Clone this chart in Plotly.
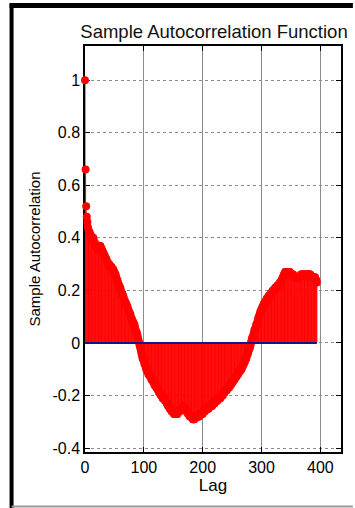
import plotly.graph_objects as go

# Sample autocorrelation values, lags 0..394
acf = [
    1.00, 0.66, 0.52, 0.48, 0.46, 0.44, 0.43, 0.42, 0.42, 0.41,
    0.41, 0.40, 0.40, 0.39, 0.40, 0.39, 0.38, 0.38, 0.37, 0.37,
    0.37, 0.36, 0.36, 0.35, 0.36, 0.36, 0.37, 0.36, 0.36, 0.35,
    0.35, 0.34, 0.34, 0.33, 0.33, 0.32, 0.32, 0.31, 0.31, 0.30,
    0.30, 0.30, 0.29, 0.29, 0.29, 0.29, 0.28, 0.28, 0.28, 0.27,
    0.27, 0.26, 0.26, 0.25, 0.24, 0.24, 0.23, 0.22, 0.22, 0.21,
    0.21, 0.20, 0.19, 0.19, 0.18, 0.18, 0.17, 0.16, 0.16, 0.15,
    0.15, 0.14, 0.14, 0.13, 0.12, 0.12, 0.11, 0.11, 0.10, 0.09,
    0.09, 0.08, 0.08, 0.07, 0.07, 0.06, 0.05, 0.04, 0.04, 0.03,
    0.02, 0.01, 0.00, -0.01, -0.02, -0.03, -0.04, -0.05, -0.06, -0.06,
    -0.07, -0.08, -0.08, -0.09, -0.10, -0.10, -0.11, -0.11, -0.12, -0.12,
    -0.12, -0.13, -0.13, -0.14, -0.14, -0.14, -0.15, -0.15, -0.16, -0.16,
    -0.16, -0.17, -0.17, -0.17, -0.18, -0.18, -0.19, -0.19, -0.19, -0.20,
    -0.20, -0.20, -0.21, -0.21, -0.21, -0.21, -0.22, -0.22, -0.22, -0.23,
    -0.23, -0.24, -0.24, -0.24, -0.25, -0.25, -0.25, -0.26, -0.26, -0.26,
    -0.26, -0.27, -0.27, -0.27, -0.27, -0.27, -0.27, -0.27, -0.26, -0.26,
    -0.26, -0.26, -0.25, -0.25, -0.25, -0.25, -0.24, -0.24, -0.25, -0.25,
    -0.25, -0.25, -0.26, -0.26, -0.26, -0.27, -0.27, -0.27, -0.28, -0.28,
    -0.28, -0.28, -0.28, -0.29, -0.29, -0.29, -0.29, -0.28, -0.28, -0.28,
    -0.28, -0.28, -0.28, -0.28, -0.28, -0.27, -0.27, -0.27, -0.27, -0.27,
    -0.27, -0.26, -0.26, -0.26, -0.26, -0.25, -0.25, -0.25, -0.25, -0.25,
    -0.25, -0.24, -0.24, -0.24, -0.24, -0.24, -0.24, -0.23, -0.23, -0.23,
    -0.23, -0.22, -0.22, -0.22, -0.22, -0.22, -0.21, -0.21, -0.21, -0.21,
    -0.21, -0.20, -0.20, -0.20, -0.20, -0.19, -0.19, -0.19, -0.18, -0.18,
    -0.18, -0.18, -0.17, -0.17, -0.17, -0.17, -0.16, -0.16, -0.16, -0.15,
    -0.15, -0.15, -0.14, -0.14, -0.14, -0.13, -0.13, -0.13, -0.12, -0.12,
    -0.12, -0.11, -0.11, -0.11, -0.10, -0.10, -0.10, -0.09, -0.09, -0.08,
    -0.08, -0.07, -0.07, -0.06, -0.06, -0.05, -0.04, -0.04, -0.03, -0.02,
    -0.02, -0.01, 0.00, 0.01, 0.02, 0.02, 0.03, 0.04, 0.05, 0.05,
    0.06, 0.07, 0.07, 0.08, 0.09, 0.10, 0.10, 0.11, 0.12, 0.12,
    0.13, 0.13, 0.14, 0.14, 0.15, 0.15, 0.15, 0.16, 0.16, 0.17,
    0.17, 0.17, 0.18, 0.18, 0.18, 0.18, 0.19, 0.19, 0.19, 0.20,
    0.20, 0.20, 0.20, 0.21, 0.21, 0.21, 0.21, 0.22, 0.22, 0.22,
    0.22, 0.23, 0.23, 0.23, 0.24, 0.24, 0.25, 0.25, 0.26, 0.26,
    0.27, 0.27, 0.27, 0.27, 0.27, 0.27, 0.27, 0.27, 0.27, 0.26,
    0.26, 0.26, 0.26, 0.26, 0.26, 0.25, 0.25, 0.25, 0.25, 0.25,
    0.25, 0.25, 0.25, 0.25, 0.25, 0.25, 0.25, 0.26, 0.26, 0.26,
    0.26, 0.26, 0.26, 0.26, 0.26, 0.26, 0.26, 0.26, 0.26, 0.26,
    0.26, 0.26, 0.26, 0.26, 0.25, 0.25, 0.25, 0.25, 0.25, 0.25,
    0.25, 0.25, 0.24, 0.24, 0.23,
]
lags = list(range(len(acf)))

x_ticks = [0, 100, 200, 300, 400]
y_ticks = [-0.4, -0.2, 0, 0.2, 0.4, 0.6, 0.8, 1]
y_tick_text = ["-0.4", "-0.2", "0", "0.2", "0.4", "0.6", "0.8", "1"]

title_text = "Sample Autocorrelation Function"
x_title = "Lag"
y_title = "Sample Autocorrelation"

FONT = "Liberation Sans, Arial, sans-serif"

# stems
sx, sy = [], []
for l, v in zip(lags, acf):
    sx += [l, l, None]
    sy += [0, v, None]

fig = go.Figure()
fig.add_trace(go.Scatter(x=sx, y=sy, mode="lines",
                         line=dict(color="#ff0000", width=1),
                         hoverinfo="skip", showlegend=False, cliponaxis=False))
fig.add_trace(go.Scatter(x=lags, y=acf, mode="markers",
                         marker=dict(color="#ff0000", size=8, line=dict(width=0)),
                         showlegend=False, cliponaxis=False))
fig.add_trace(go.Scatter(x=[lags[0], lags[-1]], y=[0, 0], mode="lines",
                         line=dict(color="#141482", width=2),
                         showlegend=False))

L, R, T, B = 85, 12, 46, 56
W, H = 355, 508
pw, ph = W - L - R, H - T - B

def px_x(p):
    return (p - L) / pw

def px_y(p):
    return (H - B - p) / ph

fig.update_layout(
    width=W, height=H,
    margin=dict(l=L, r=R, t=T, b=B, pad=0),
    paper_bgcolor="white", plot_bgcolor="white",
    font=dict(family=FONT, color="black", size=16),
    title=dict(text=title_text, x=(L + pw / 2) / W, xanchor="center",
               y=1 - 32 / H, yanchor="middle",
               font=dict(size=18.5, family=FONT, color="#111")),
    xaxis=dict(range=[0, 435], tickvals=x_ticks, ticks="inside", ticklen=5,
               tickcolor="black", showline=True, linecolor="black", linewidth=1.5,
               mirror="allticks", showgrid=True, gridcolor="#8c8c8c", gridwidth=1,
               zeroline=False, layer="below traces",
               title=dict(text=x_title, standoff=4, font=dict(size=17)),
               tickfont=dict(size=16)),
    yaxis=dict(range=[-0.415, 1.13], tickvals=y_ticks, ticktext=y_tick_text,
               ticks="inside", ticklen=5, tickcolor="black",
               showline=True, linecolor="black", linewidth=1.5, mirror="allticks",
               showgrid=True, gridcolor="#8c8c8c", gridwidth=1, griddash="dot",
               zeroline=False, layer="below traces",
               title=dict(text=y_title, standoff=8, font=dict(size=15)),
               tickfont=dict(size=16)),
    shapes=[
        dict(type="line", xref="paper", yref="paper",
             x0=px_x(11), x1=px_x(11), y0=px_y(4), y1=px_y(H),
             line=dict(color="black", width=4)),
        dict(type="line", xref="paper", yref="paper",
             x0=px_x(9), x1=px_x(W), y0=px_y(5.5), y1=px_y(5.5),
             line=dict(color="black", width=5)),
        dict(type="line", xref="paper", yref="paper",
             x0=px_x(11), x1=px_x(W), y0=px_y(506.5), y1=px_y(506.5),
             line=dict(color="#9a9a9a", width=2)),
    ],
)

fig.write_html("out.html")
